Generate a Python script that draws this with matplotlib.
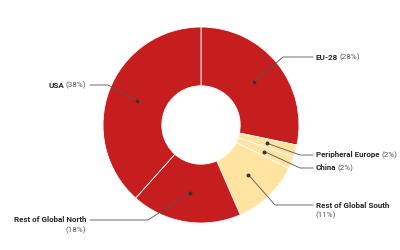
import numpy as np
import matplotlib.pyplot as plt

plt.rcParams['font.family'] = ['Roboto', 'DejaVu Sans']

regions = ['EU-28', 'Peripheral Europe', 'China', 'Rest of Global South',
           'Rest of Global North', 'USA']
shares = [28, 2, 2, 11, 18, 38]
colors = ['#c61e1f', '#ffe3a0', '#ffe3a0', '#ffe3a0', '#c61e1f', '#c61e1f']

# layout (pixels from top-left): elbow point, label x, label y, side
layout = {
    'EU-28': ((283, 57), 316, 57, 'r'),
    'Peripheral Europe': ((300, 155), 316, 155, 'r'),
    'China': ((300, 168), 316, 168, 'r'),
    'Rest of Global South': ((275, 205), 316, 205, 'r'),
    'Rest of Global North': ((148, 220), 86, 220, 'l'),
    'USA': ((108, 85), 86, 85, 'l'),
}

W, H = 400, 250
cx, cy, R = 201, 125, 98

fig = plt.figure(figsize=(4, 2.5), dpi=100)
ax = fig.add_axes([0, 0, 1, 1])
wedges, _ = ax.pie(shares, colors=colors, startangle=90, counterclock=False,
                   radius=R, center=(cx, H - cy),
                   wedgeprops=dict(width=R * 0.6, edgecolor='white', linewidth=0.6))
ax.set_xlim(0, W)
ax.set_ylim(0, H)
ax.set_aspect('equal')
ax.axis('off')

fig.canvas.draw()
r = fig.canvas.get_renderer()
fs = 5.8
name_col = '#262626'
pct_col = '#555555'
for w, name, val in zip(wedges, regions, shares):
    mid = np.deg2rad((w.theta1 + w.theta2) / 2)
    dx = cx + 0.70 * R * np.cos(mid)
    dy = (H - cy) + 0.70 * R * np.sin(mid)
    (ex, ey), lx, ly, side = layout[name]
    end = lx - 3 if side == 'r' else lx + 4
    ax.plot([dx, ex, end], [dy, H - ey, H - ey], color='#555555', lw=0.6)
    ax.plot(dx, dy, 'o', color='#333333', ms=1.8)
    pct = '(%d%%)' % val
    two_lines = name.startswith('Rest')
    if side == 'r':
        t = ax.text(lx, H - ly, name, fontsize=fs, fontweight='bold',
                    color=name_col, ha='left', va='center')
        if two_lines:
            ax.text(lx, H - ly - 10, pct, fontsize=fs, color=pct_col,
                    ha='left', va='center')
        else:
            bb = t.get_window_extent(r)
            ax.text(bb.x1 + 1.5, H - ly, pct, fontsize=fs, color=pct_col,
                    ha='left', va='center')
    else:
        if two_lines:
            ax.text(lx, H - ly, name, fontsize=fs, fontweight='bold',
                    color=name_col, ha='right', va='center')
            ax.text(lx, H - ly - 10, pct, fontsize=fs, color=pct_col,
                    ha='right', va='center')
        else:
            t = ax.text(lx, H - ly, pct, fontsize=fs, color=pct_col,
                        ha='right', va='center')
            bb = t.get_window_extent(r)
            ax.text(bb.x0 - 1.5, H - ly, name, fontsize=fs, fontweight='bold',
                    color=name_col, ha='right', va='center')

fig.savefig('out.png', dpi=100)
